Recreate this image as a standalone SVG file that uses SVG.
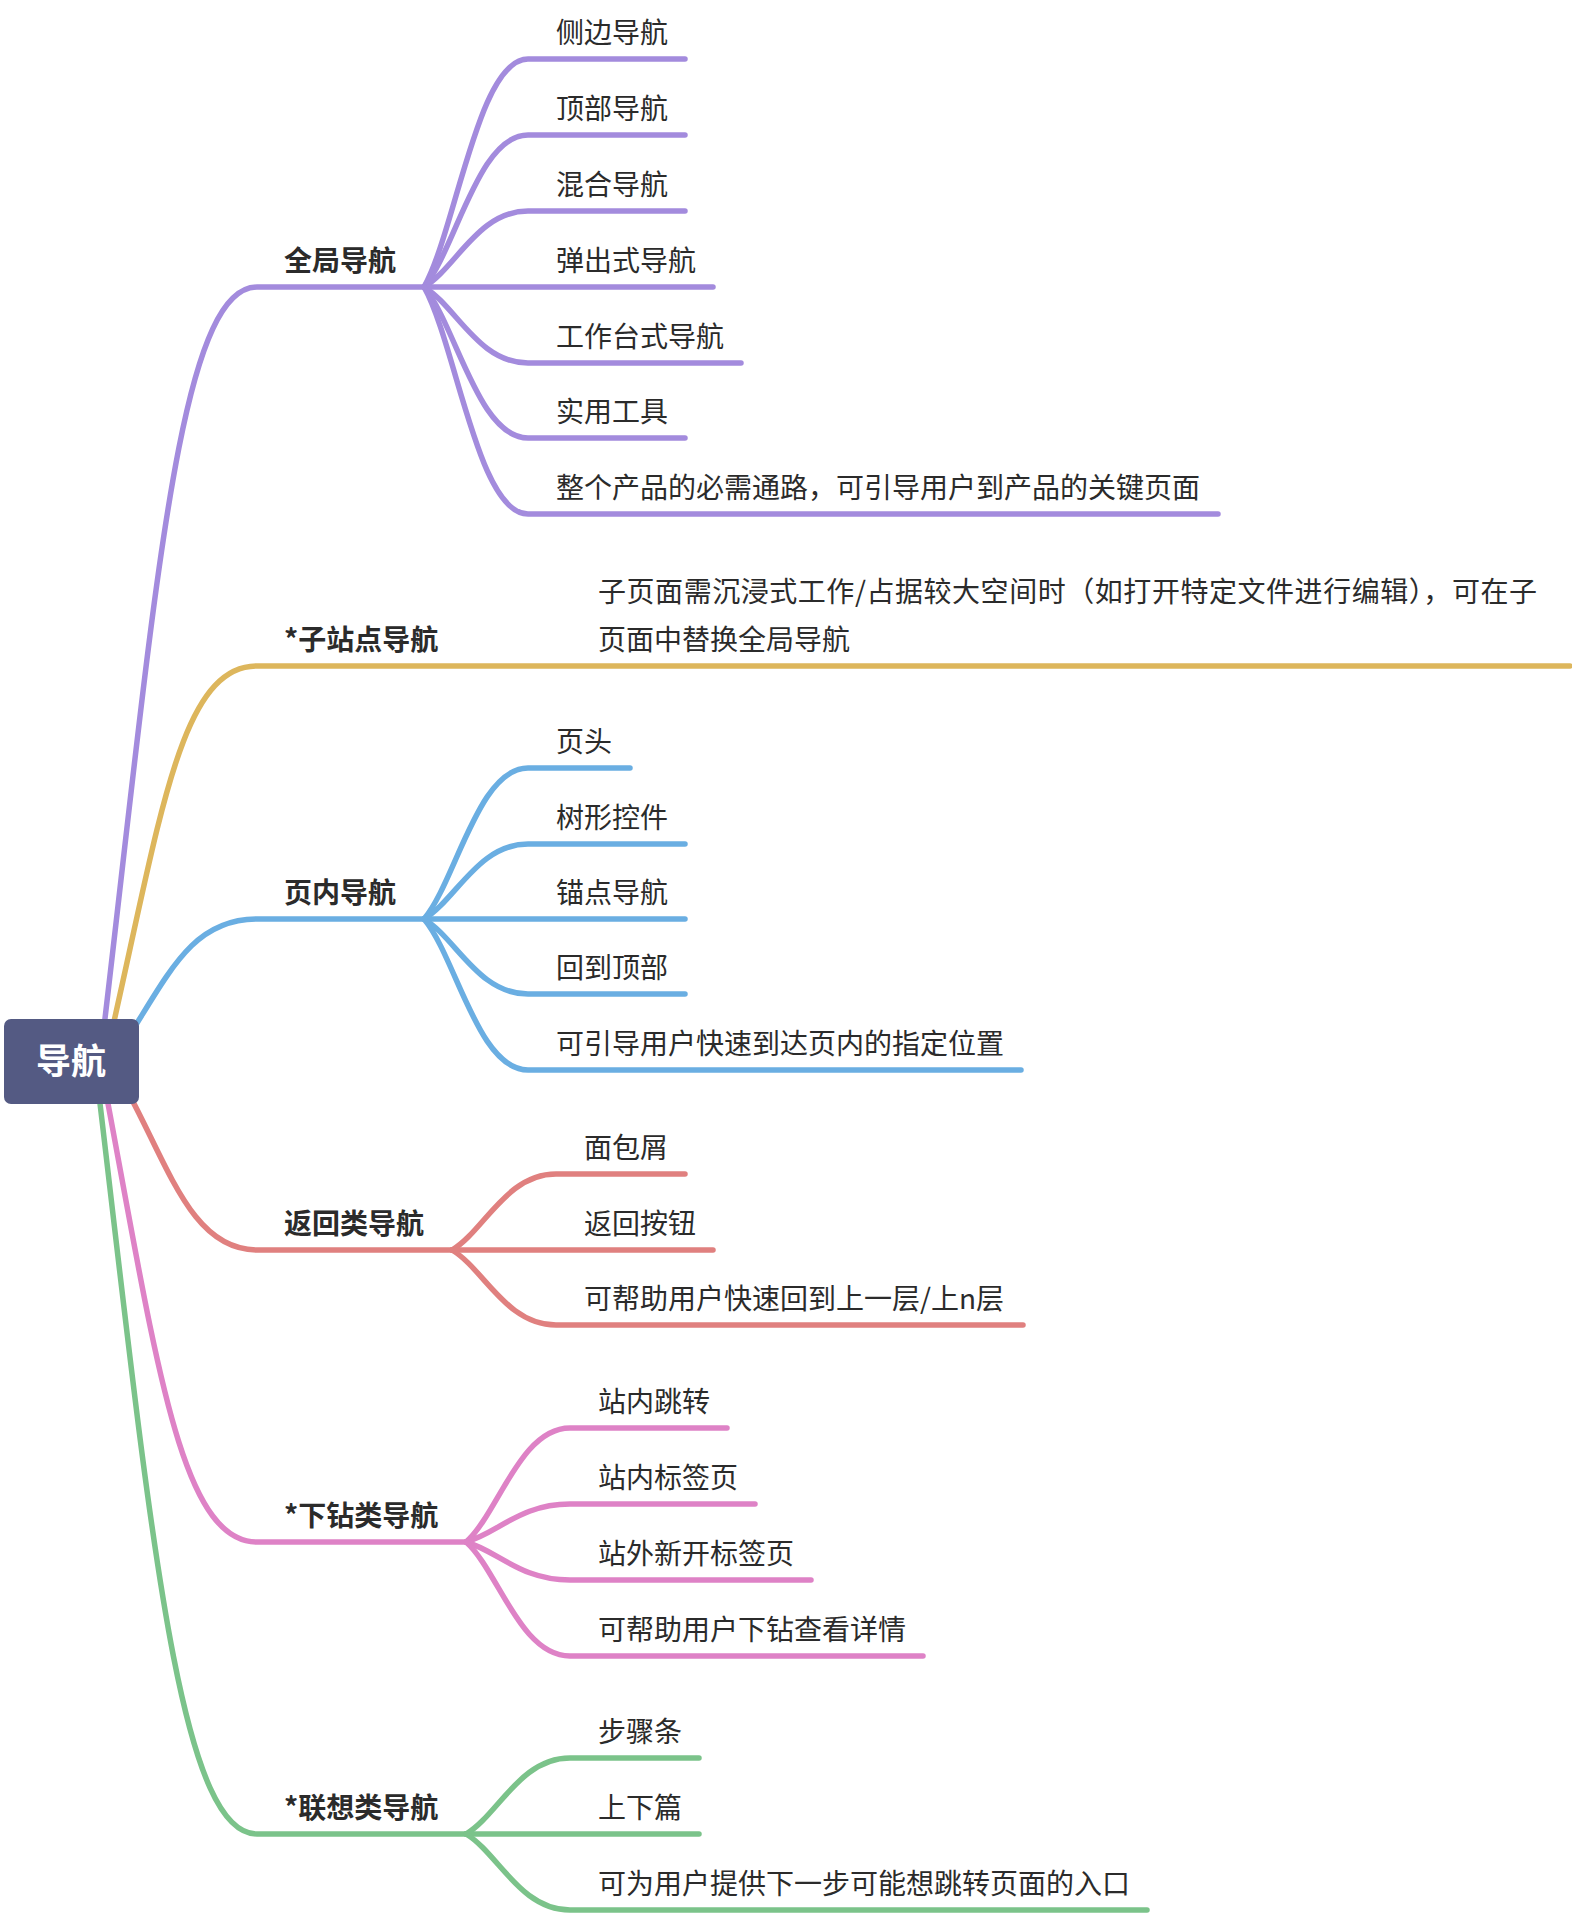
<svg xmlns="http://www.w3.org/2000/svg" width="1572" height="1916" viewBox="0 0 1572 1916">
<style>
.c{fill:none;stroke-width:5.5;stroke-linecap:round;stroke-linejoin:round}
.pu{stroke:#A38BDD}.or{stroke:#DDB65C}.bl{stroke:#6AAEE2}.re{stroke:#E0807F}.pi{stroke:#DE82C6}.gr{stroke:#7BC38A}
text{font-family:"Noto Sans CJK SC","Noto Sans",sans-serif;fill:#2b2b2b}
.t{font-size:28px}
.b{font-size:28px;font-weight:bold}
.r{font-size:35px;font-weight:bold;fill:#ffffff;text-anchor:middle}
</style>
<rect width="1572" height="1916" fill="#ffffff"/>
<g id="connectors">
<path class="c pu" d="M100 1061 C155 597 178 287 257 287 L428 287"/>
<path class="c or" d="M105 1061 C160 824 178 666 257 666 L1570 666"/>
<path class="c bl" d="M110 1065 C165 985 185 919 257 919 L428 919"/>
<path class="c re" d="M110 1060 C165 1150 185 1250 257 1250 L456 1250"/>
<path class="c pi" d="M100 1061 C155 1350 178 1542 257 1542 L470 1542"/>
<path class="c gr" d="M95 1061 C150 1525 178 1834 257 1834 L470 1834"/>
<path class="c pu" d="M424 287 C456 230 478 59 528 59 L685 59"/>
<path class="c pu" d="M424 287 C456 249 478 135 528 135 L685 135"/>
<path class="c pu" d="M424 287 C456 268 478 211 528 211 L685 211"/>
<path class="c pu" d="M424 287 L713 287"/>
<path class="c pu" d="M424 287 C456 306 478 363 528 363 L741 363"/>
<path class="c pu" d="M424 287 C456 325 478 438 528 438 L685 438"/>
<path class="c pu" d="M424 287 C456 344 478 514 528 514 L1218 514"/>
<path class="c bl" d="M424 919 C456 881 478 768 528 768 L630 768"/>
<path class="c bl" d="M424 919 C456 900 478 844 528 844 L685 844"/>
<path class="c bl" d="M424 919 L685 919"/>
<path class="c bl" d="M424 919 C456 938 478 994 528 994 L685 994"/>
<path class="c bl" d="M424 919 C456 957 478 1070 528 1070 L1021 1070"/>
<path class="c re" d="M452 1250 C484 1231 506 1174 556 1174 L685 1174"/>
<path class="c re" d="M452 1250 L713 1250"/>
<path class="c re" d="M452 1250 C484 1269 506 1325 556 1325 L1023 1325"/>
<path class="c pi" d="M466 1542 C498 1514 520 1428 570 1428 L727 1428"/>
<path class="c pi" d="M466 1542 C498 1533 520 1504 570 1504 L755 1504"/>
<path class="c pi" d="M466 1542 C498 1551 520 1580 570 1580 L811 1580"/>
<path class="c pi" d="M466 1542 C498 1570 520 1656 570 1656 L923 1656"/>
<path class="c gr" d="M466 1834 C498 1815 520 1758 570 1758 L699 1758"/>
<path class="c gr" d="M466 1834 L699 1834"/>
<path class="c gr" d="M466 1834 C498 1853 520 1910 570 1910 L1147 1910"/>
</g>
<g id="root"><rect x="4" y="1019" width="135" height="85" rx="7" fill="#545A83"/><text class="r" x="71" y="1074">导航</text></g>
<g id="global"><text class="b" x="284" y="271">全局导航</text></g>
<g id="g1"><text class="t" x="556" y="43">侧边导航</text></g>
<g id="g2"><text class="t" x="556" y="119">顶部导航</text></g>
<g id="g3"><text class="t" x="556" y="195">混合导航</text></g>
<g id="g4"><text class="t" x="556" y="271">弹出式导航</text></g>
<g id="g5"><text class="t" x="556" y="347">工作台式导航</text></g>
<g id="g6"><text class="t" x="556" y="422">实用工具</text></g>
<g id="g7"><text class="t" x="556" y="498">整个产品的必需通路，可引导用户到产品的关键页面</text></g>
<g id="subsite"><text class="b" x="284" y="650">*子站点导航</text></g>
<g id="s1"><text class="t" x="598" y="602" textLength="939" lengthAdjust="spacing">子页面需沉浸式工作/占据较大空间时（如打开特定文件进行编辑），可在子</text><text class="t" x="598" y="650">页面中替换全局导航</text></g>
<g id="inpage"><text class="b" x="284" y="903">页内导航</text></g>
<g id="p1"><text class="t" x="556" y="752">页头</text></g>
<g id="p2"><text class="t" x="556" y="828">树形控件</text></g>
<g id="p3"><text class="t" x="556" y="903">锚点导航</text></g>
<g id="p4"><text class="t" x="556" y="978">回到顶部</text></g>
<g id="p5"><text class="t" x="556" y="1054">可引导用户快速到达页内的指定位置</text></g>
<g id="back"><text class="b" x="284" y="1234">返回类导航</text></g>
<g id="r1"><text class="t" x="584" y="1158">面包屑</text></g>
<g id="r2"><text class="t" x="584" y="1234">返回按钮</text></g>
<g id="r3"><text class="t" x="584" y="1309">可帮助用户快速回到上一层/上n层</text></g>
<g id="drill"><text class="b" x="284" y="1526">*下钻类导航</text></g>
<g id="d1"><text class="t" x="598" y="1412">站内跳转</text></g>
<g id="d2"><text class="t" x="598" y="1488">站内标签页</text></g>
<g id="d3"><text class="t" x="598" y="1564">站外新开标签页</text></g>
<g id="d4"><text class="t" x="598" y="1640">可帮助用户下钻查看详情</text></g>
<g id="assoc"><text class="b" x="284" y="1818">*联想类导航</text></g>
<g id="a1"><text class="t" x="598" y="1742">步骤条</text></g>
<g id="a2"><text class="t" x="598" y="1818">上下篇</text></g>
<g id="a3"><text class="t" x="598" y="1894">可为用户提供下一步可能想跳转页面的入口</text></g>
</svg>
